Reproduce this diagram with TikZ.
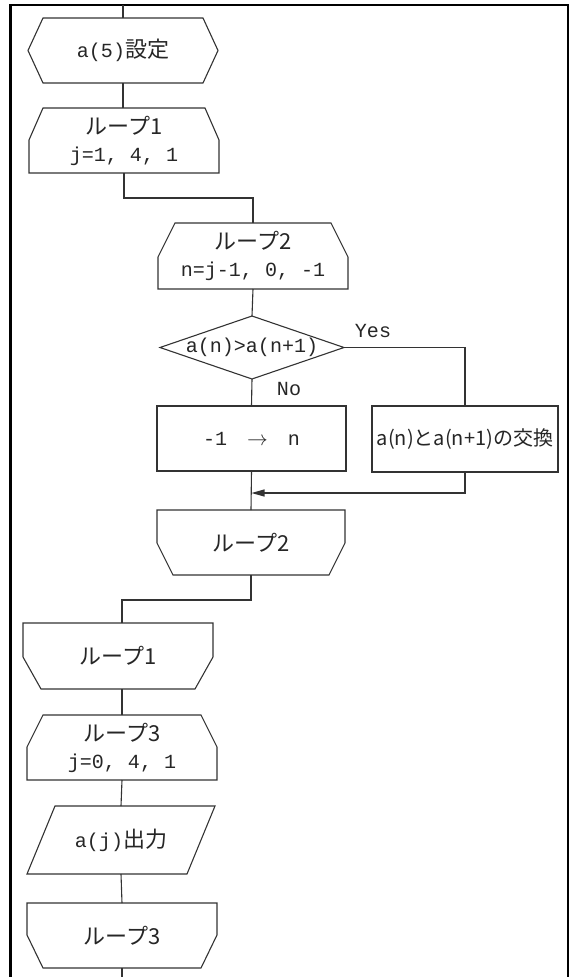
\documentclass[tikz,border=0pt]{standalone}
\usepackage{fontspec}
\setmainfont{Noto Sans CJK JP}
\newfontfamily\mono[Scale=0.91]{Liberation Mono}
\usetikzlibrary{calc,arrows.meta}
\newcommand\lpbegin[3]{% name, dx, dy : chamfer at top corners
  \draw[outl] ($(#1.north west)+(#2,0)$) -- ($(#1.north east)+(-#2,0)$) -- ($(#1.north east)+(0,#3)$)
    -- (#1.south east) -- (#1.south west) -- ($(#1.north west)+(0,#3)$) -- cycle;}
\newcommand\lpend[3]{% name, dx, dy : chamfer at bottom corners
  \draw[outl] (#1.north west) -- (#1.north east) -- ($(#1.south east)+(0,-#3)$)
    -- ($(#1.south east)+(-#2,0)$) -- ($(#1.south west)+(#2,0)$) -- ($(#1.south west)+(0,-#3)$) -- cycle;}
\begin{document}
\begin{tikzpicture}[x=1pt,y=-1pt,
  box/.style={draw=none, inner sep=0pt, outer sep=0pt, text=black!85, align=center,
    font=\fontsize{22}{27}\selectfont},
  outl/.style={draw=black!80, line width=1.1pt, line join=miter},
  conn/.style={draw=black!80, line width=1.1pt},
  lbl/.style={inner sep=0pt, text=black!85, font=\fontsize{22}{24}\selectfont\mono}
]
\useasboundingbox (0,0) rectangle (572,977);
\fill[white] (0,0) rectangle (572,977);
% frame
\draw[line width=2.2pt, black] (10.5,977) -- (10.5,5) -- (568,5) -- (568,977);

% nodes
\node[box, minimum width=160pt, minimum height=65pt] (init) at (123,50.5) {{\mono a(5)}設定};
\node[box, minimum width=190pt, minimum height=65pt] (l1b) at (124,140.5) {ループ1\\{\mono j=1, 4, 1}};
\node[box, minimum width=190pt, minimum height=66pt] (l2b) at (253,256) {ループ2\\{\mono n=j-1, 0, -1}};
\node[box, minimum width=184pt, minimum height=63pt] (cond) at (252,347.5) {{\mono a(n)>a(n+1)}};
\node[box, minimum width=189pt, minimum height=65pt] (dec) at (251.5,438.5) {{\mono -1}\hspace{20pt}$\rightarrow$\hspace{20pt}{\mono n}};
\node[box, minimum width=186pt, minimum height=66pt, font=\fontsize{20}{24}\selectfont] (swap) at (465,439) {a(n)とa(n+1)の交換};
\node[box, minimum width=188pt, minimum height=65pt] (l2e) at (251,542.5) {ループ2};
\node[box, minimum width=190pt, minimum height=66pt] (l1e) at (118,656) {ループ1};
\node[box, minimum width=190pt, minimum height=65pt] (l3b) at (122,747.5) {ループ3\\{\mono j=0, 4, 1}};
\node[box, minimum width=188pt, minimum height=68pt] (out) at (121,840) {{\mono a(j)}出力};
\node[box, minimum width=190pt, minimum height=65pt] (l3e) at (122,935.5) {ループ3};

% outlines
\draw[outl] (init.north west) -- (init.north east) -- ($(init.east)+(15,0)$) -- (init.south east)
  -- (init.south west) -- ($(init.west)+(-15,0)$) -- cycle;
\lpbegin{l1b}{14}{32}
\lpbegin{l2b}{17}{34}
\draw[outl] (cond.north) -- (cond.east) -- (cond.south) -- (cond.west) -- cycle;
\draw[outl] (dec.north west) rectangle (dec.south east);
\draw[outl] (swap.north west) rectangle (swap.south east);
\lpend{l2e}{16}{32}
\lpend{l1e}{18}{32}
\lpbegin{l3b}{16}{32}
\draw[outl] ($(out.north west)+(28,0)$) -- (out.north east) -- ($(out.south east)+(-28,0)$) -- (out.south west) -- cycle;
\lpend{l3e}{16}{33}

% labels
\node[lbl] (yes) at (373,331) {Yes};
\node[lbl] (no) at (289,389) {No};

% connectors
\coordinate (top) at (123,5);
\coordinate (bot) at (122,977);
\coordinate (merge) at ($(dec.south)+(0,22)$);
\draw[conn] (top) -- (init.north);
\draw[conn] (init.south) -- (init.south |- l1b.north);
\draw[conn] (l1b.south) |- ($(l2b.north)+(0,-25)$) -- (l2b.north);
\draw[conn] (l2b.south) -- (cond.north);
\draw[conn] (cond.east) -| (swap.north);
\draw[conn] (cond.south) -- (dec.north);
\draw[conn] (dec.south) -- (l2e.north);
\draw[conn, -{Triangle[length=13pt,width=7pt]}] (swap.south) |- (merge);
\draw[conn] (l2e.south) |- ($(l1e.north -| l3b.north)+(0,-23)$) -- (l1e.north -| l3b.north);
\draw[conn] (l1e.south -| l3b.north) -- (l3b.north);
\draw[conn] (l3b.south) -- (out.north);
\draw[conn] (out.south) -- (l3e.north);
\draw[conn] (l3e.south) -- (bot);
\end{tikzpicture}
\end{document}
